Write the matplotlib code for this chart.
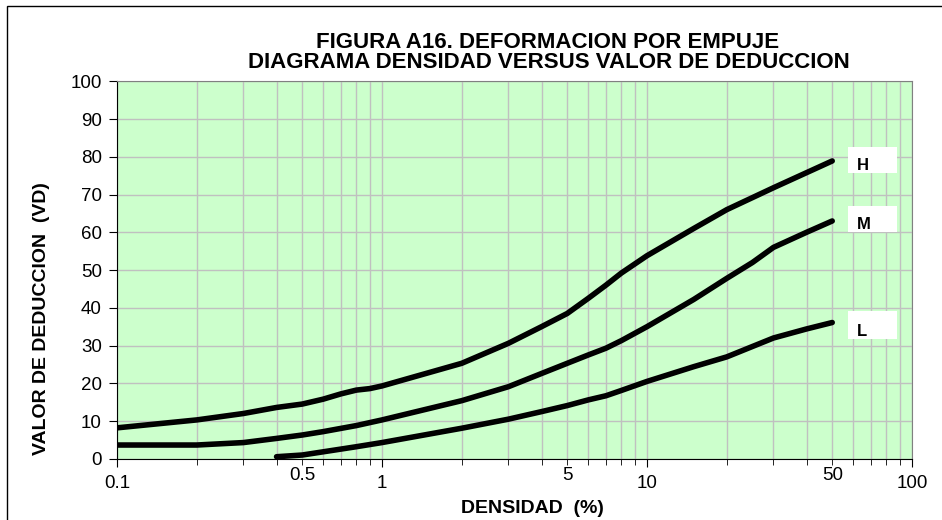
import matplotlib.pyplot as plt
from matplotlib.patches import Rectangle

plt.rcParams['font.family'] = ['Liberation Sans', 'DejaVu Sans']

# curve H (alta severidad)
h_x = [0.1, 0.2, 0.3, 0.4, 0.5, 0.6, 0.7, 0.8, 0.9, 1, 2, 3, 4, 5, 6, 7, 8, 10, 15, 20, 30, 40, 50]
h_y = [8.2, 10.3, 12.0, 13.6, 14.5, 15.8, 17.2, 18.2, 18.6, 19.3, 25.3, 30.6, 35.0, 38.5, 42.5, 46.0, 49.2, 53.8, 61.0, 66.0, 71.8, 75.8, 78.9]

# curve M (media)
m_x = [0.1, 0.2, 0.3, 0.4, 0.5, 0.6, 0.8, 1, 2, 3, 4, 5, 6, 7, 8, 10, 15, 20, 25, 30, 40, 50]
m_y = [3.65, 3.65, 4.3, 5.4, 6.3, 7.2, 8.8, 10.3, 15.4, 19.1, 22.6, 25.3, 27.5, 29.3, 31.3, 35.0, 42.2, 47.8, 52.0, 56.0, 60.0, 63.0]

# curve L (baja)
l_x = [0.4, 0.5, 0.8, 1, 2, 3, 4, 5, 6, 7, 8, 10, 15, 20, 30, 40, 50]
l_y = [0.55, 1.0, 3.2, 4.3, 8.1, 10.5, 12.5, 14.1, 15.6, 16.7, 18.1, 20.5, 24.4, 27.0, 32.0, 34.4, 36.1]

curve_names = ['H', 'M', 'L']
major_ticks = [0.1, 1, 10, 100]
major_labels = ['0.1', '1', '10', '100']
extra_ticks = [0.5, 5, 50]
extra_labels = ['0.5', '5', '50']

W, H = 942, 520
fig = plt.figure(figsize=(W / 100, H / 100), dpi=100)
ax = fig.add_axes([117 / W, 1 - 458.8 / H, 795 / W, 377.5 / H])

ax.set_facecolor('#ccffcc')
ax.set_xscale('log')
ax.set_xlim(0.1, 100)
ax.set_ylim(0, 100)

ax.set_xticks(major_ticks)
ax.set_xticklabels(major_labels)
ax.set_yticks(range(0, 101, 10))
ax.tick_params(axis='both', which='major', labelsize=13.5, direction='out', length=6, color='black')
ax.tick_params(axis='x', which='minor', direction='out', length=4, labelbottom=False)
ax.tick_params(axis='x', which='major', pad=6)
ax.tick_params(axis='y', which='major', pad=5)
ax.grid(True, which='both', axis='x', color='#c0c0c0', linewidth=1)
ax.grid(True, which='major', axis='y', color='#c0c0c0', linewidth=1)
ax.set_axisbelow(True)

for s in ['top', 'right']:
    ax.spines[s].set_color('#808080')
ax.spines['left'].set_color('black')
ax.spines['bottom'].set_color('black')

for tx, tl in zip(extra_ticks, extra_labels):
    ax.text(tx, -2.2, tl, ha='center', va='top', fontsize=13.5)

ax.plot(h_x, h_y, color='black', linewidth=4, solid_capstyle='round')
ax.plot(m_x, m_y, color='black', linewidth=4, solid_capstyle='round')
ax.plot(l_x, l_y, color='black', linewidth=4, solid_capstyle='round')

# white label boxes
for name, y0, y1, ty in zip(curve_names, [75.7, 60.1, 31.8], [82.6, 67.0, 39.2], [77.8, 62.1, 33.7]):
    ax.add_patch(Rectangle((57.3, y0), 87.8 - 57.3, y1 - y0, facecolor='white', edgecolor='none', zorder=3))
    ax.text(62, ty, name, fontsize=12, fontweight='bold', va='center', ha='left', zorder=4)

# title, two lines
fig.text(548 / W, 1 - 48.3 / H, 'FIGURA A16. DEFORMACION POR EMPUJE',
         fontsize=16, fontweight='bold', ha='center', va='baseline')
fig.text(549 / W, 1 - 68.3 / H, 'DIAGRAMA DENSIDAD VERSUS VALOR DE DEDUCCION',
         fontsize=16, fontweight='bold', ha='center', va='baseline')

fig.text(532 / W, 1 - 513 / H, 'DENSIDAD  (%)', fontsize=14, fontweight='bold',
         ha='center', va='baseline')
fig.text(42 / W, 1 - 319 / H, 'VALOR DE DEDUCCION  (VD)', fontsize=14, fontweight='bold',
         ha='center', va='center', rotation=90)

fig.patches.append(Rectangle((7 / W, -0.02), 1.05, 1 - 6 / H + 0.02, transform=fig.transFigure,
                             fill=False, edgecolor='black', linewidth=1))

fig.savefig('out.png', dpi=100)
